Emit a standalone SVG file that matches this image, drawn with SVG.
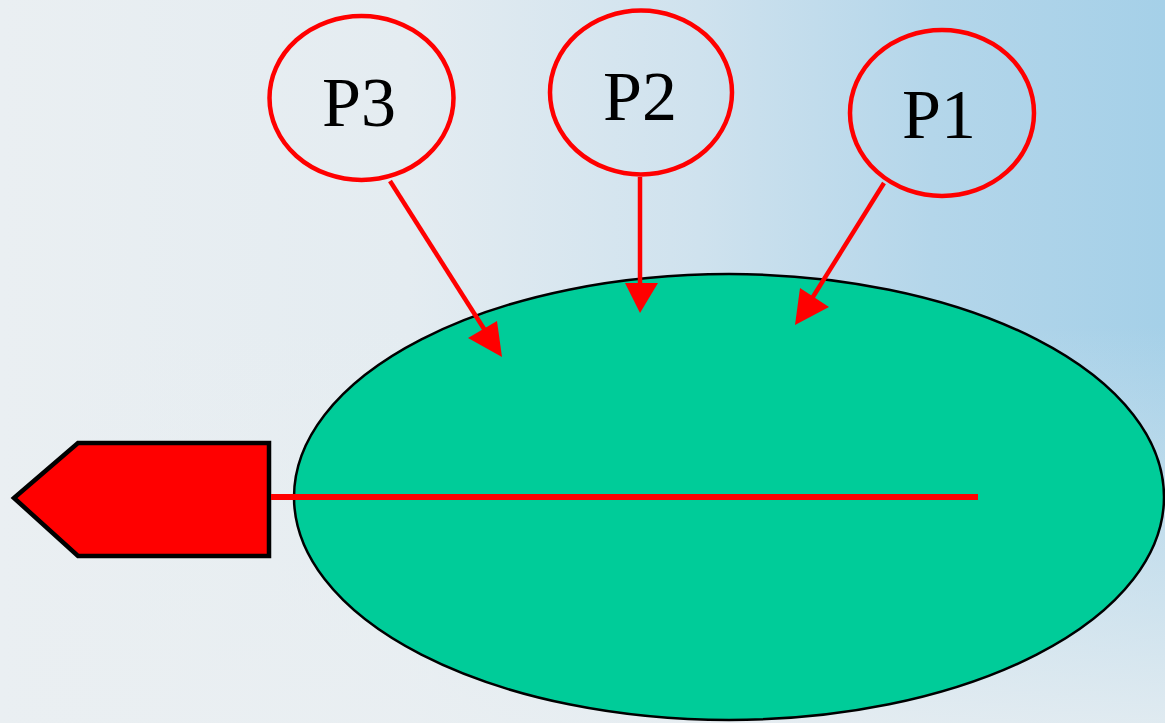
<svg xmlns="http://www.w3.org/2000/svg" width="1165" height="723" viewBox="0 0 1165 723">
<style>
.p{fill:none;stroke:#FF0000;stroke-width:4.5}
.t{font-family:"Liberation Serif","Times New Roman",serif;font-size:70px;fill:#000;text-anchor:middle}
.c{stroke:#FF0000;stroke-width:4.5;fill:none}
.h{fill:#FF0000}
</style>
<defs>
<linearGradient id="bg" x1="0" y1="0" x2="1" y2="0">
<stop offset="0" stop-color="#EAEFF2"/>
<stop offset="0.35" stop-color="#E4ECF1"/>
<stop offset="0.6" stop-color="#CFE2EE"/>
<stop offset="0.8" stop-color="#B4D6EA"/>
<stop offset="1" stop-color="#A5D0E8"/>
</linearGradient>
<linearGradient id="fade" x1="0" y1="0" x2="0" y2="1">
<stop offset="0" stop-color="#EAEFF2" stop-opacity="0"/>
<stop offset="0.45" stop-color="#EAEFF2" stop-opacity="0"/>
<stop offset="1" stop-color="#EAEFF2" stop-opacity="0.85"/>
</linearGradient>
</defs>
<rect width="1165" height="723" fill="url(#bg)"/>
<rect width="1165" height="723" fill="url(#fade)"/>
<g id="main">
<ellipse cx="729" cy="497" rx="435" ry="223" fill="#00CC99" stroke="#000" stroke-width="2.5"/>
</g>
<g id="output">
<polygon points="14,498 78,443 269,443 269,556 78,556" fill="#FF0000" stroke="#000" stroke-width="4.5"/>
</g>
<g id="P3">
<ellipse class="p" cx="361.5" cy="98" rx="92" ry="82"/>
<text class="t" x="359" y="126">P3</text>
</g>
<g id="P2">
<ellipse class="p" cx="641" cy="92.5" rx="91" ry="82"/>
<text class="t" x="640" y="120">P2</text>
</g>
<g id="P1">
<ellipse class="p" cx="942" cy="113" rx="92" ry="83"/>
<text class="t" x="939" y="138">P1</text>
</g>
<g id="connectors">
<line x1="271" y1="497" x2="978" y2="497" stroke="#FF0000" stroke-width="6"/>
<line class="c" x1="390" y1="181" x2="486" y2="332"/>
<polygon class="h" points="502,357 468,338 497,321"/>
<line class="c" x1="640" y1="177" x2="640" y2="286"/>
<polygon class="h" points="640,313 625,283 658,283"/>
<line class="c" x1="884" y1="183" x2="811" y2="300"/>
<polygon class="h" points="795,325 800,288 829,307"/>
</g>
</svg>
